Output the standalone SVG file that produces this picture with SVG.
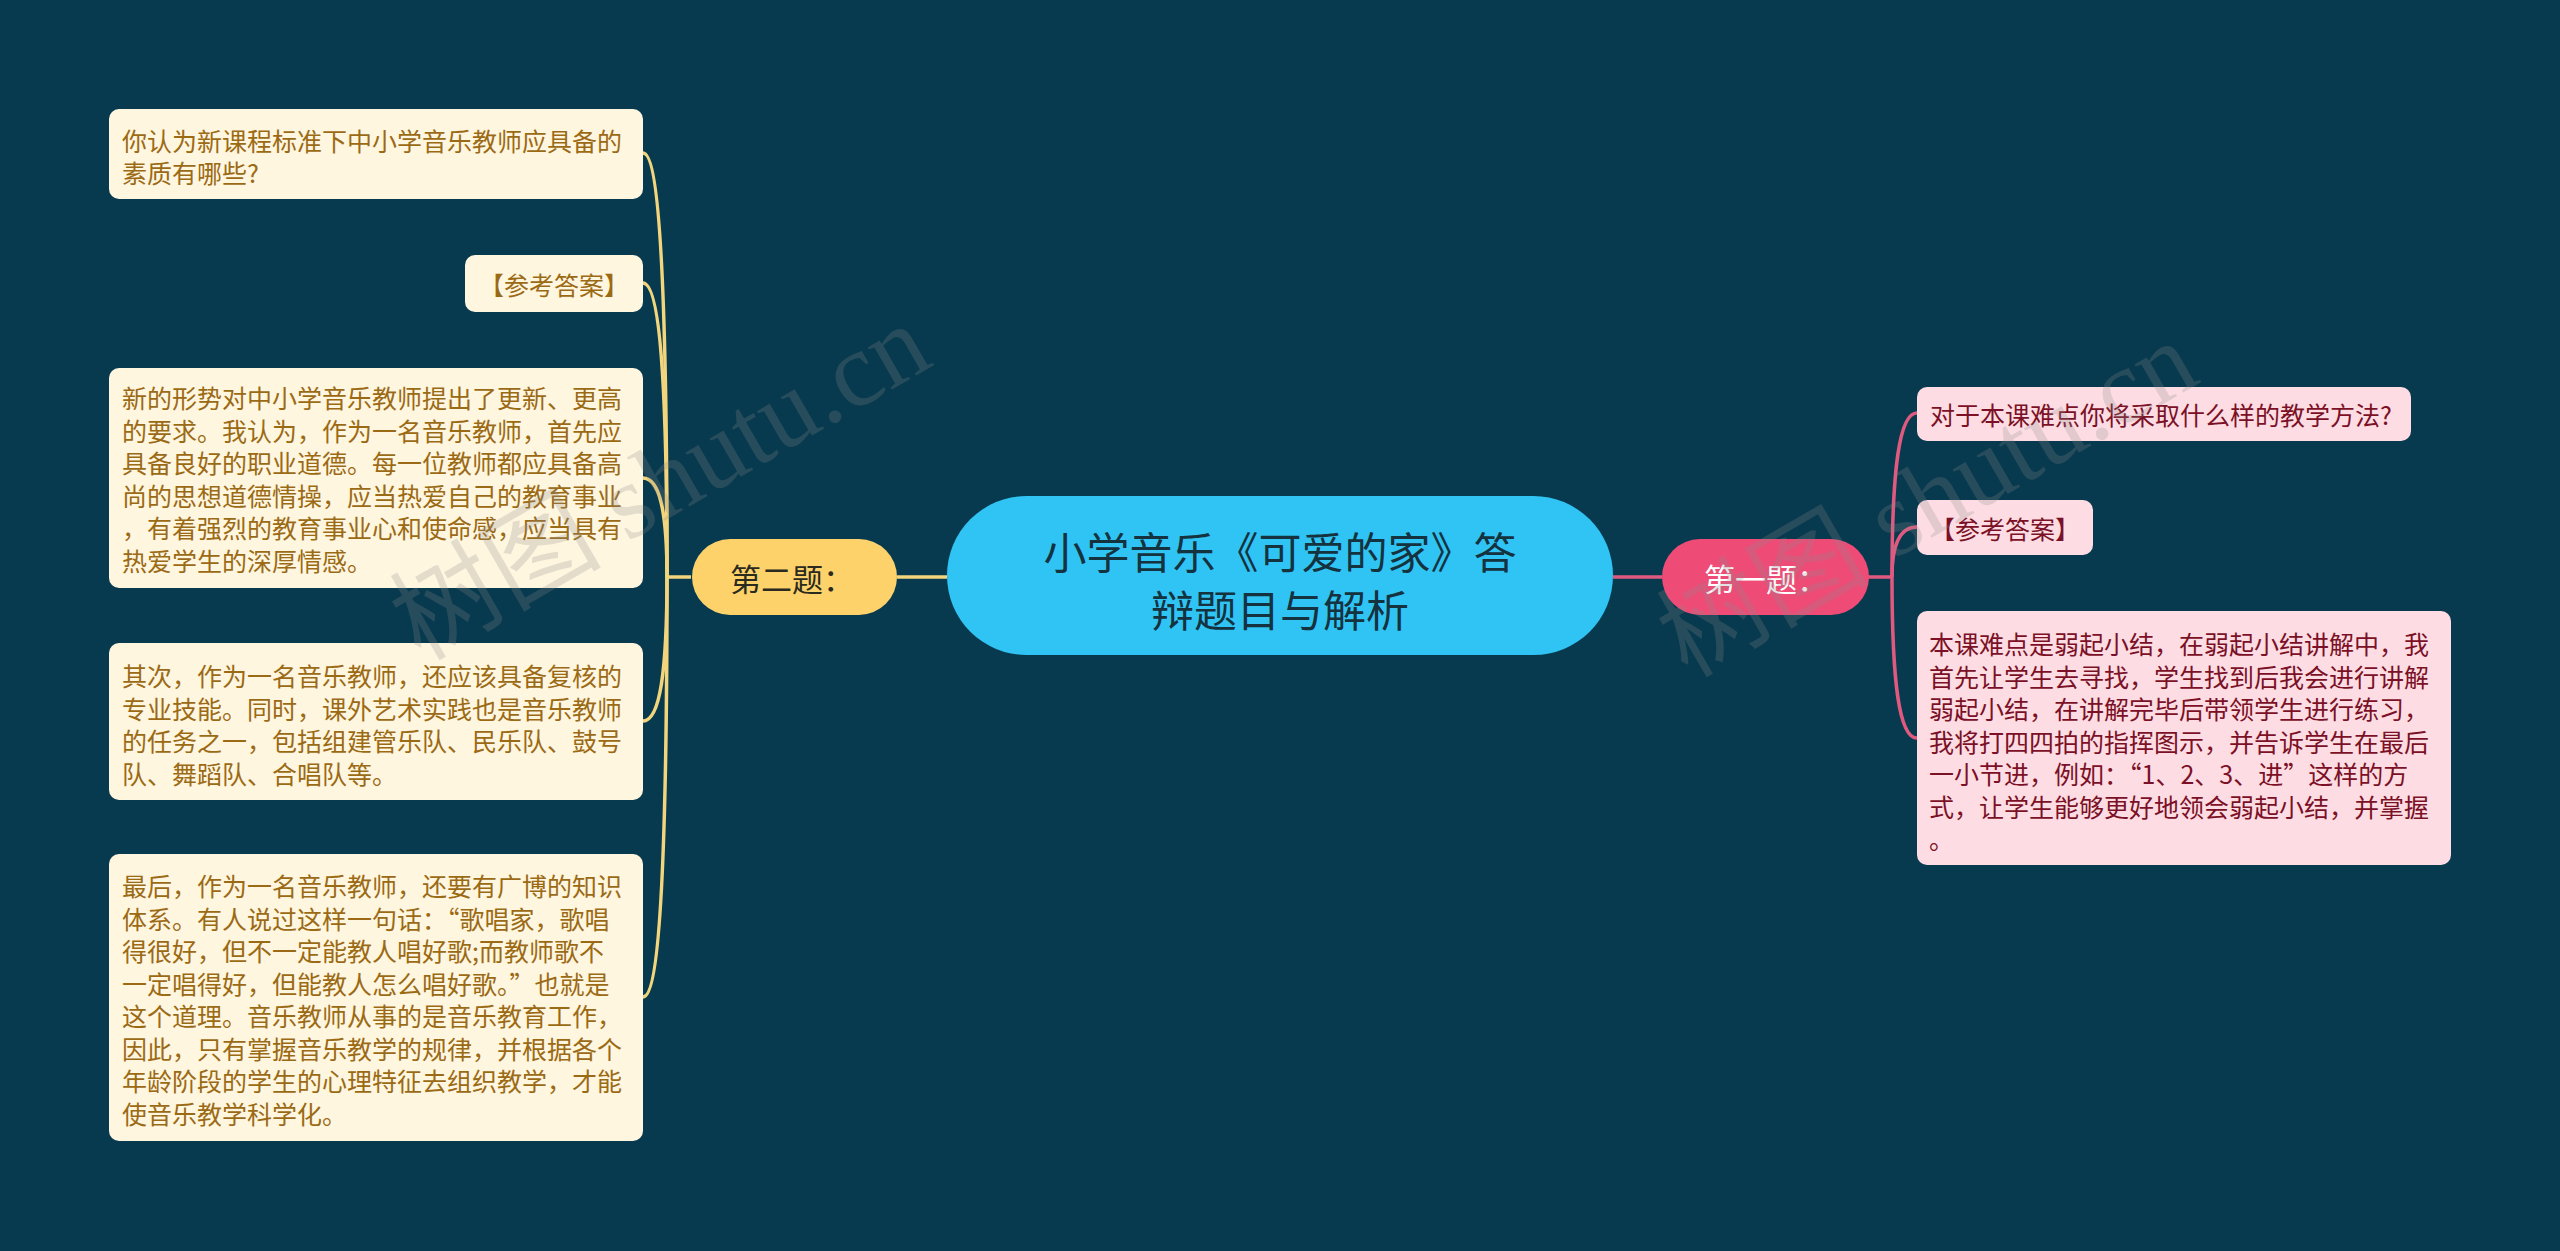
<svg xmlns="http://www.w3.org/2000/svg" width="2560" height="1251" viewBox="0 0 2560 1251">
<style>
.bg{fill:#083A4F}
.lbox{fill:#FFF6E0}
.ltxt{fill:#9B6A14;font-family:"Noto Sans CJK SC","Liberation Sans",sans-serif;font-size:25px;dominant-baseline:central}
.rbox{fill:#FDDDE3}
.rtxt{fill:#7B1026;font-family:"Noto Sans CJK SC","Liberation Sans",sans-serif;font-size:25px;dominant-baseline:central}
.ylink{fill:none;stroke:#F2D57C;stroke-width:3.5}
.plink{fill:none;stroke:#E05A80;stroke-width:3.5}
.wm{fill:#8C8C8C;fill-opacity:0.24;font-family:"Liberation Serif","Noto Sans CJK SC",serif;font-size:106px}
</style>
<rect class="bg" x="0" y="0" width="2560" height="1251"/>

<g id="connectors">
  <line class="ylink" x1="897" y1="577" x2="947" y2="577"/>
  <line class="plink" x1="1613" y1="577" x2="1662" y2="577"/>
  <line class="ylink" x1="691" y1="577" x2="667" y2="577"/>
  <path class="ylink" d="M667,577 C667,301 660,153 643,153"/>
  <path class="ylink" d="M667,577 C667,386 660,283 643,283"/>
  <path class="ylink" d="M667,577 C667,513 660,478 643,478"/>
  <path class="ylink" d="M667,577 C667,671 660,721 643,721"/>
  <path class="ylink" d="M667,577 C667,850 660,997 643,997"/>
  <line class="plink" x1="1868" y1="577" x2="1892" y2="577"/>
  <path class="plink" d="M1892,577 C1892,470 1899,413 1917,413"/>
  <path class="plink" d="M1892,577 C1892,545 1899,527 1917,527"/>
  <path class="plink" d="M1892,577 C1892,682 1899,738 1917,738"/>
</g>

<g id="root">
  <rect x="947" y="496" width="666" height="159" rx="79.5" fill="#30C4F4"/>
  <text x="1280" y="550" text-anchor="middle" dominant-baseline="central" font-family="Noto Sans CJK SC, Liberation Sans, sans-serif" font-size="43" fill="#15323F">小学音乐《可爱的家》答</text>
  <text x="1280" y="608" text-anchor="middle" dominant-baseline="central" font-family="Noto Sans CJK SC, Liberation Sans, sans-serif" font-size="43" fill="#15323F">辩题目与解析</text>
</g>

<g id="q2">
  <rect x="692" y="539" width="205" height="76" rx="38" fill="#FDD26A"/>
  <text x="792" y="577" text-anchor="middle" dominant-baseline="central" font-family="Noto Sans CJK SC, Liberation Sans, sans-serif" font-size="31" fill="#2B2A1E">第二题：</text>
</g>

<g id="q1">
  <rect x="1662" y="539" width="207" height="76" rx="38" fill="#EE4C77"/>
  <text x="1766" y="577" text-anchor="middle" dominant-baseline="central" font-family="Noto Sans CJK SC, Liberation Sans, sans-serif" font-size="31" fill="#FFFFFF">第一题：</text>
</g>

<g id="l1">
  <rect class="lbox" x="109" y="109" width="534" height="90" rx="10"/>
  <text class="ltxt" x="122" y="140">你认为新课程标准下中小学音乐教师应具备的</text>
  <text class="ltxt" x="122" y="172">素质有哪些?</text>
</g>

<g id="l2">
  <rect class="lbox" x="465" y="255" width="178" height="57" rx="10"/>
  <text class="ltxt" x="554" y="284" text-anchor="middle">【参考答案】</text>
</g>

<g id="l3">
  <rect class="lbox" x="109" y="368" width="534" height="220" rx="10"/>
  <text class="ltxt" x="122" y="397">新的形势对中小学音乐教师提出了更新、更高</text>
  <text class="ltxt" x="122" y="429.5">的要求。我认为，作为一名音乐教师，首先应</text>
  <text class="ltxt" x="122" y="462">具备良好的职业道德。每一位教师都应具备高</text>
  <text class="ltxt" x="122" y="494.5">尚的思想道德情操，应当热爱自己的教育事业</text>
  <text class="ltxt" x="122" y="527">，有着强烈的教育事业心和使命感，应当具有</text>
  <text class="ltxt" x="122" y="559.5">热爱学生的深厚情感。</text>
</g>

<g id="l4">
  <rect class="lbox" x="109" y="643" width="534" height="157" rx="10"/>
  <text class="ltxt" x="122" y="675">其次，作为一名音乐教师，还应该具备复核的</text>
  <text class="ltxt" x="122" y="707.5">专业技能。同时，课外艺术实践也是音乐教师</text>
  <text class="ltxt" x="122" y="740">的任务之一，包括组建管乐队、民乐队、鼓号</text>
  <text class="ltxt" x="122" y="772.5">队、舞蹈队、合唱队等。</text>
</g>

<g id="l5">
  <rect class="lbox" x="109" y="854" width="534" height="287" rx="10"/>
  <text class="ltxt" x="122" y="885">最后，作为一名音乐教师，还要有广博的知识</text>
  <text class="ltxt" x="122" y="917.5">体系。有人说过这样一句话：“歌唱家，歌唱</text>
  <text class="ltxt" x="122" y="950">得很好，但不一定能教人唱好歌;而教师歌不</text>
  <text class="ltxt" x="122" y="982.5">一定唱得好，但能教人怎么唱好歌。”也就是</text>
  <text class="ltxt" x="122" y="1015">这个道理。音乐教师从事的是音乐教育工作，</text>
  <text class="ltxt" x="122" y="1047.5">因此，只有掌握音乐教学的规律，并根据各个</text>
  <text class="ltxt" x="122" y="1080">年龄阶段的学生的心理特征去组织教学，才能</text>
  <text class="ltxt" x="122" y="1112.5">使音乐教学科学化。</text>
</g>

<g id="r1">
  <rect class="rbox" x="1917" y="387" width="494" height="54" rx="10"/>
  <text class="rtxt" x="1930" y="414">对于本课难点你将采取什么样的教学方法?</text>
</g>

<g id="r2">
  <rect class="rbox" x="1917" y="500" width="176" height="55" rx="10"/>
  <text class="rtxt" x="2005" y="527.5" text-anchor="middle">【参考答案】</text>
</g>

<g id="r3">
  <rect class="rbox" x="1917" y="611" width="534" height="254" rx="10"/>
  <text class="rtxt" x="1929" y="643">本课难点是弱起小结，在弱起小结讲解中，我</text>
  <text class="rtxt" x="1929" y="675.5">首先让学生去寻找，学生找到后我会进行讲解</text>
  <text class="rtxt" x="1929" y="708">弱起小结，在讲解完毕后带领学生进行练习，</text>
  <text class="rtxt" x="1929" y="740.5">我将打四四拍的指挥图示，并告诉学生在最后</text>
  <text class="rtxt" x="1929" y="773">一小节进，例如：“1、2、3、进”这样的方</text>
  <text class="rtxt" x="1929" y="805.5">式，让学生能够更好地领会弱起小结，并掌握</text>
  <text class="rtxt" x="1929" y="838">。</text>
</g>

<g id="watermarks">
  <text class="wm" x="678" y="513" text-anchor="middle" transform="rotate(-30 678 513)">树图 shutu.cn</text>
  <text class="wm" x="1945" y="530" text-anchor="middle" transform="rotate(-30 1945 530)">树图 shutu.cn</text>
</g>
</svg>
